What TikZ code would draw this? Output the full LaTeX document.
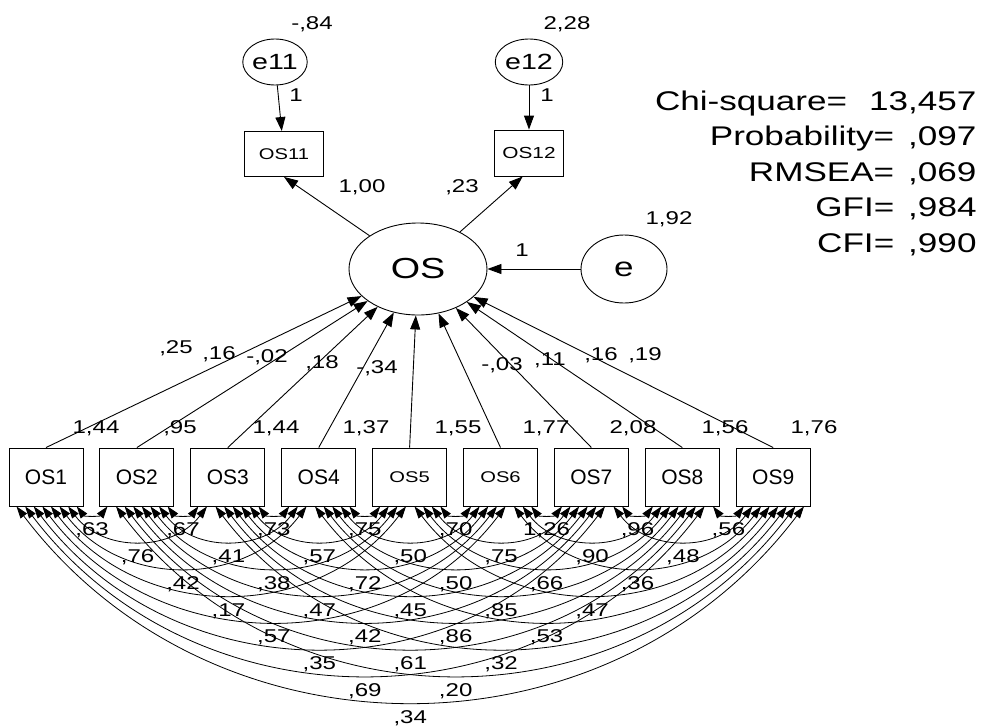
\documentclass[tikz,border=0pt]{standalone}
\usepackage{fontspec}
\setmainfont{Liberation Sans}[FakeStretch=1.3]
\newfontfamily\plainsans{Liberation Sans}
\usepackage{tikz}
\usetikzlibrary{positioning,shapes.geometric,arrows.meta,calc}

\begin{document}
\begin{tikzpicture}[
    x=1pt, y=-1pt,
    node distance=16pt,
    line width=0.9pt,
    obs/.style={rectangle, draw, minimum width=74pt, minimum height=58pt, inner sep=0pt},
    lat/.style={ellipse, draw, inner sep=0pt},
    bigtxt/.style={font=\plainsans\fontsize{21}{22}\selectfont},
    smalltxt/.style={font=\fontsize{15.5}{17}\selectfont},
    est/.style={inner sep=0pt, font=\fontsize{18.5}{20}\selectfont},
    stat/.style={anchor=base east, inner sep=0pt, font=\fontsize{27}{30}\selectfont},
    reg/.style={draw, -{Triangle[length=14pt,width=10pt]}},
    cov/.style={draw, line width=0.8pt, {Triangle[length=12pt,width=8pt]}-{Triangle[length=12pt,width=8pt]}}
]
    \useasboundingbox (0,0) rectangle (982,726);

    % latent variables and errors
    \node [lat, minimum width=138pt, minimum height=92pt, font=\fontsize{29}{30}\selectfont] (OS) at (418,269) {OS};
    \node [lat, minimum width=86pt, minimum height=68pt, font=\fontsize{27}{30}\selectfont] (e) at (624,269) {e};
    \node [lat, minimum width=58pt, minimum height=46pt, font=\fontsize{22}{24}\selectfont] (e11) at (275,62) {e11};
    \node [lat, minimum width=58pt, minimum height=46pt, font=\fontsize{22}{24}\selectfont] (e12) at (529,62) {e12};

    % indicators
    \node [obs, minimum width=79pt, minimum height=45pt, font=\fontsize{15.5}{16}\selectfont] (os11) at (284,154) {OS11};
    \node [obs, minimum width=69pt, minimum height=46pt, font=\fontsize{16}{17}\selectfont] (os12) at (529,153) {OS12};

    \node [obs, bigtxt] (os1) at (46,477) {OS1};
    \node [obs, bigtxt, right=of os1] (os2) {OS2};
    \node [obs, bigtxt, right=of os2] (os3) {OS3};
    \node [obs, bigtxt, right=of os3] (os4) {OS4};
    \node [obs, smalltxt, right=of os4] (os5) {OS5};
    \node [obs, smalltxt, right=of os5] (os6) {OS6};
    \node [obs, bigtxt, right=of os6] (os7) {OS7};
    \node [obs, bigtxt, right=of os7] (os8) {OS8};
    \node [obs, bigtxt, right=of os8] (os9) {OS9};

    % paths
    \path [reg] (e11) -- (os11);
    \path [reg] (e12) -- (os12);
    \path [reg] (OS) -- (os11.south);
    \path [reg] (OS) -- (os12.-105);
    \path [reg] (e) -- (OS);
    \foreach \n in {1,...,9}
        \path [reg] (os\n.north) -- (OS);

    % covariances
    \foreach \i/\j/\v in {1/2/{,63}, 2/3/{,67}, 3/4/{,73}, 4/5/{,75}, 5/6/{,70}, 6/7/{1,26}, 7/8/{,96}, 8/9/{,56},
                          1/3/{,76}, 2/4/{,41}, 3/5/{,57}, 4/6/{,50}, 5/7/{,75}, 6/8/{,90}, 7/9/{,48},
                          1/4/{,42}, 2/5/{,38}, 3/6/{,72}, 4/7/{,50}, 5/8/{,66}, 6/9/{,36},
                          1/5/{,17}, 2/6/{,47}, 3/7/{,45}, 4/8/{,85}, 5/9/{,47},
                          1/6/{,57}, 2/7/{,42}, 3/8/{,86}, 4/9/{,53},
                          1/7/{,35}, 2/8/{,61}, 3/9/{,32},
                          1/8/{,69}, 2/9/{,20},
                          1/9/{,34}} {
        \pgfmathsetmacro\ka{8+8.6*(\i+8-\j)}
        \pgfmathsetmacro\kb{8+8.6*(\j-1-\i)}
        \path [cov] let \p1=($(os\i.south west)+(\ka,0)$), \p2=($(os\j.south west)+(\kb,0)$), \n1={\x2-\x1} in
            (\p1) .. controls +(0.25*\n1,-0.33*\n1) and +(-0.25*\n1,-0.33*\n1) .. (\p2)
            node [est, pos=0.5, yshift=-16.5pt] (c\i\j) {\v};
    }

    % estimates
    \node [est] (ve11) at (312,24) {-,84};
    \node [est] (ve12) at (567,24) {2,28};
    \node [est] (w11) at (296,95) {1};
    \node [est] (w12) at (547,95) {1};
    \node [est] (l11) at (362,187) {1,00};
    \node [est] (l12) at (462,187) {,23};
    \node [est] (ve) at (669,219) {1,92};
    \node [est] (we) at (522,250) {1};

    \node [est] (b1) at (176,348) {,25};
    \node [est] (b2) at (219,354) {,16};
    \node [est] (b3) at (267,357) {-,02};
    \node [est] (b4) at (322,363) {,18};
    \node [est] (b5) at (377,368) {-,34};
    \node [est] (b6) at (502,365) {-,03};
    \node [est] (b7) at (550,360) {,11};
    \node [est] (b8) at (601,355) {,16};
    \node [est] (b9) at (645,355) {,19};

    \node [est] (v1) at (96,428) {1,44};
    \node [est] (v2) at (180,428) {,95};
    \node [est] (v3) at (276,428) {1,44};
    \node [est] (v4) at (366,428) {1,37};
    \node [est] (v5) at (458,428) {1,55};
    \node [est] (v6) at (546,428) {1,77};
    \node [est] (v7) at (633,428) {2,08};
    \node [est] (v8) at (725,428) {1,56};
    \node [est] (v9) at (814,428) {1,76};

    % fit statistics
    \node [stat] (chisq) at (977,110) {Chi-square=\hspace{22pt}13,457};
    \node [stat] (prob) at (977,145.5) {Probability=\hspace{14pt},097};
    \node [stat] (rmsea) at (977,181) {RMSEA=\hspace{14pt},069};
    \node [stat] (gfi) at (977,216.5) {GFI=\hspace{14pt},984};
    \node [stat] (cfi) at (977,252) {CFI=\hspace{14pt},990};
\end{tikzpicture}
\end{document}
